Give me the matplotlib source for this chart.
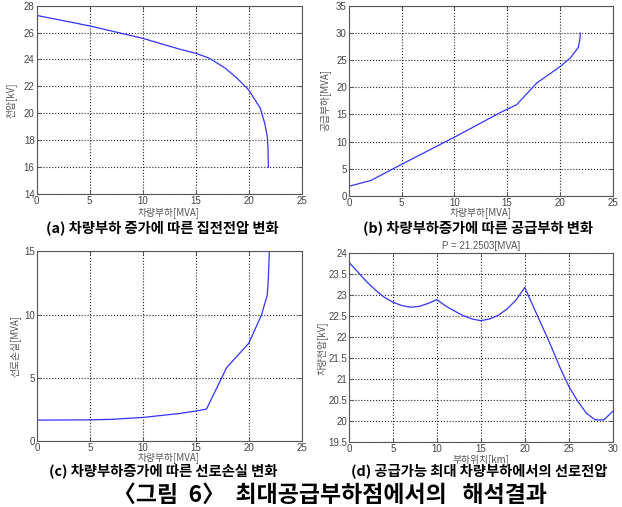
import numpy as np
import matplotlib
matplotlib.use('Agg')
import matplotlib.pyplot as plt

plt.rcParams['font.family'] = ['Noto Sans CJK KR', 'DejaVu Sans']

# (a) vehicle load vs collector voltage
load_a = [0, 5, 10, 13.5, 15, 16.3, 17.8, 18.9, 20.0, 21.1, 21.5, 21.75, 21.82, 21.86]
volt_a = [27.27, 26.49, 25.57, 24.76, 24.46, 24.09, 23.35, 22.61, 21.74, 20.38, 19.3, 18.3, 17.5, 16.0]

# (b) vehicle load vs supply load
load_b = [0, 2.1, 5, 10, 14.3, 15.9, 17.8, 20.0, 21.0, 21.75, 21.9, 21.93]
supply_b = [1.73, 2.83, 5.8, 10.8, 15.3, 16.8, 20.8, 23.8, 25.45, 27.4, 29.0, 30.0]

# (c) vehicle load vs line loss
load_c = [0, 5, 7, 10, 13.5, 15, 16.0, 17.9, 20.0, 21.2, 21.75, 21.85, 21.94]
loss_c = [1.66, 1.68, 1.72, 1.87, 2.19, 2.38, 2.53, 5.81, 7.74, 9.98, 11.57, 12.9, 15.0]

# (d) line voltage along the feeder
pos_d = list(range(0, 31))
volt_d = [23.78, 23.55, 23.32, 23.12, 22.95, 22.83, 22.75, 22.71, 22.73, 22.80, 22.89,
          22.74, 22.62, 22.51, 22.43, 22.39, 22.43, 22.52, 22.67, 22.88, 23.18,
          22.71, 22.25, 21.78, 21.28, 20.83, 20.48, 20.19, 20.03, 20.03, 20.23]

W, H = 622.0, 507.0
LAB = '#555555'


def fx(px):
    return px / W


def fy(py):
    return 1 - py / H


def style_axes(ax, xlim, ylim, xt, yt):
    ax.set_xlim(*xlim)
    ax.set_ylim(*ylim)
    ax.set_xticks(xt)
    ax.set_yticks(yt)
    ax.tick_params(direction='in', length=3, width=0.6, labelsize=7,
                   colors='#444444', top=True, right=True, pad=1.5)
    for lab in ax.get_xticklabels() + ax.get_yticklabels():
        lab.set_family(['Liberation Sans', 'DejaVu Sans'])
    for s in ax.spines.values():
        s.set_linewidth(0.8)
        s.set_color('#555555')
    ax.grid(True, linestyle=':', color='#222222', linewidth=0.8)


def labels(xlab, xpos, ylab, ypos):
    # axis labels put by hand, the CJK font line height pushes them too far
    fig.text(fx(xpos[0]), fy(xpos[1]), xlab, fontsize=7, color=LAB,
             ha='center', va='center')
    fig.text(fx(ypos[0]), fy(ypos[1]), ylab, fontsize=7, color=LAB,
             ha='center', va='center', rotation=90)


fig = plt.figure(figsize=(6.22, 5.07), dpi=100)

ax_a = fig.add_axes([0.059, 0.617, 0.426, 0.372])
ax_b = fig.add_axes([0.561, 0.614, 0.424, 0.374])
ax_c = fig.add_axes([0.060, 0.130, 0.425, 0.374])
ax_d = fig.add_axes([0.561, 0.128, 0.424, 0.373])

ax_a.plot(load_a, volt_a, color='#3333ff', linewidth=0.9)
style_axes(ax_a, (0, 25), (14, 28), range(0, 26, 5), range(14, 29, 2))
labels('차량부하[MVA]', (169, 213), '전압[kV]', (11, 100))

ax_b.plot(load_b, supply_b, color='#3333ff', linewidth=0.9)
style_axes(ax_b, (0, 25), (0, 35), range(0, 26, 5), range(0, 36, 5))
labels('차량부하[MVA]', (481, 213), '공급부하[MVA]', (325, 100))

ax_c.plot(load_c, loss_c, color='#3333ff', linewidth=0.9)
style_axes(ax_c, (0, 25), (0, 15), range(0, 26, 5), range(0, 16, 5))
labels('차량부하[MVA]', (169, 458), '선로손실[MVA]', (15, 346))

ax_d.plot(pos_d, volt_d, color='#3333ff', linewidth=0.9)
style_axes(ax_d, (0, 30), (19.5, 24), range(0, 31, 5), np.arange(19.5, 24.01, 0.5))
ax_d.set_yticklabels(['19.5', '20', '20.5', '21', '21.5', '22', '22.5', '23', '23.5', '24'])
labels('부하위치[km]', (481, 459.5), '차량전압[kV]', (322, 348))
ax_d.set_title('P = 21.2503[MVA]', fontsize=7, color=LAB, pad=3,
               family=['Liberation Sans', 'DejaVu Sans'])

cap = dict(fontsize=10.3, fontweight='bold', color='black', ha='center', va='center')
fig.text(fx(162), fy(228), '(a) 차량부하 증가에 따른 집전전압 변화', **cap)
fig.text(fx(478), fy(228), '(b) 차량부하증가에 따른 공급부하 변화', **cap)
fig.text(fx(163), fy(471), '(c) 차량부하증가에 따른 선로손실 변화', **cap)
fig.text(fx(479), fy(471), '(d) 공급가능 최대 차량부하에서의 선로전압', **cap)
fig.text(fx(330), fy(495), '〈그림  6〉  최대공급부하점에서의   해석결과',
         fontsize=16.5, fontweight='bold', color='black', ha='center', va='center')

fig.savefig('out.png', dpi=100)
